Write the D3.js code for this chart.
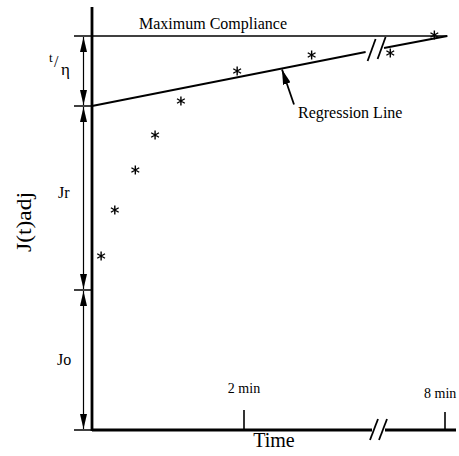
<!DOCTYPE html>
<html>
<head>
<meta charset="utf-8">
<script src="https://cdn.jsdelivr.net/npm/d3@7"></script>
<style>
  html, body { margin: 0; padding: 0; background: #fff; }
  svg { display: block; }
  text { font-family: "Liberation Serif", "Times New Roman", serif; fill: #000; }
</style>
</head>
<body>
<svg id="chart" width="459" height="456"></svg>
<script>
// ---- Data (time in minutes, compliance in arbitrary units) ----
const pointTimes  = [0.12, 0.30, 0.57, 0.83, 1.17, 1.91, 2.89, 7.28, 7.86];
const pointValues = [17.4, 22.0, 26.0, 29.5, 32.9, 35.9, 37.5, 37.7, 39.5];

const regressionTimes  = [0, 3.6, 7.17, 8.03];     // two pieces around the break
const regressionValues = [32.4, 37.8, 38.2, 39.4];

const levelNames  = ["0", "Jo", "Jo+Jr", "Max"];
const levelValues = [0, 14.0, 32.4, 39.4];
const maxEndTime  = 8.03;

const tickTimes  = [2, 8];
const tickLabels = ["2 min", "8 min"];

const segmentLabels = ["Jo", "Jr"];

// ---- Scales ----
const svg = d3.select("#chart");
// broken time axis: 0..3.6 | break | 7.2..8.2
const x = d3.scaleLinear().domain([0, 3.6, 7.2, 8.2]).range([92, 365.6, 384.2, 460.2]);
const y = d3.scaleLinear().domain([0, 42.2]).range([430, 8]);

// defs: arrow markers
const defs = svg.append("defs");
defs.append("marker").attr("id", "ah").attr("viewBox", "0 0 10 10")
  .attr("preserveAspectRatio", "none")
  .attr("refX", 10).attr("refY", 5).attr("markerWidth", 15).attr("markerHeight", 7)
  .attr("markerUnits", "userSpaceOnUse").attr("orient", "auto-start-reverse")
  .append("path").attr("d", "M0,0 L10,5 L0,10 Z").attr("fill", "#000");
defs.append("marker").attr("id", "ah2").attr("viewBox", "0 0 10 10")
  .attr("preserveAspectRatio", "none")
  .attr("refX", 10).attr("refY", 5).attr("markerWidth", 15).attr("markerHeight", 8)
  .attr("markerUnits", "userSpaceOnUse").attr("orient", "auto")
  .append("path").attr("d", "M0,0 L10,5 L0,10 Z").attr("fill", "#000");

// ---- Axes ----
const x0 = x(0), y0 = y(0);
// y axis
svg.append("line").attr("x1", x0).attr("x2", x0).attr("y1", y0 + 1).attr("y2", 7)
  .attr("stroke", "#000").attr("stroke-width", 2.8);
// x axis with break gap
svg.append("line").attr("x1", x0).attr("x2", 372).attr("y1", y0).attr("y2", y0)
  .attr("stroke", "#000").attr("stroke-width", 2.8);
svg.append("line").attr("x1", 385).attr("x2", 456).attr("y1", y0).attr("y2", y0)
  .attr("stroke", "#000").attr("stroke-width", 2.8);
// x axis break slashes
[374, 383].forEach(cx => {
  svg.append("line").attr("x1", cx - 4).attr("y1", y0 + 10).attr("x2", cx + 4).attr("y2", y0 - 11)
    .attr("stroke", "#000").attr("stroke-width", 1.8);
});

// x ticks
tickTimes.forEach((t, i) => {
  svg.append("line").attr("x1", x(t)).attr("x2", x(t)).attr("y1", y0).attr("y2", y0 - 20 + i * 2)
    .attr("stroke", "#000").attr("stroke-width", 1.6);
  svg.append("text").attr("x", x(t)).attr("y", y0 - 37 + i * 5)
    .attr("text-anchor", i === 0 ? "middle" : "start")
    .attr("dx", i === 0 ? 0 : -21)
    .attr("font-size", 14).text(tickLabels[i]);
});

// axis titles
svg.append("text").attr("x", 274).attr("y", 447).attr("text-anchor", "middle")
  .attr("font-size", 20).text("Time");
svg.append("text").attr("transform", "translate(31,222) rotate(-90)")
  .attr("text-anchor", "middle").attr("font-size", 20)
  .attr("textLength", 60).attr("lengthAdjust", "spacingAndGlyphs").text("J(t)adj");

// ---- level ticks on the left ----
levelValues.forEach(v => {
  svg.append("line").attr("x1", 74).attr("x2", x0).attr("y1", y(v)).attr("y2", y(v))
    .attr("stroke", "#000").attr("stroke-width", 1.5);
});

// dimension arrows
const ax = 83.5;
for (let i = 0; i < levelValues.length - 1; i++) {
  svg.append("line").attr("x1", ax).attr("x2", ax)
    .attr("y1", y(levelValues[i]) - 1).attr("y2", y(levelValues[i + 1]) + 1)
    .attr("stroke", "#000").attr("stroke-width", 1.2)
    .attr("marker-start", "url(#ah)").attr("marker-end", "url(#ah)");
}
// segment labels
svg.append("text").attr("x", 57).attr("y", (y(levelValues[0]) + y(levelValues[1])) / 2 + 5)
  .attr("font-size", 16).text(segmentLabels[0]);
svg.append("text").attr("x", 58).attr("y", (y(levelValues[1]) + y(levelValues[2])) / 2)
  .attr("font-size", 16).text(segmentLabels[1]);
// t / eta label
const tl = svg.append("g");
tl.append("text").attr("x", 49).attr("y", 62).attr("font-size", 13).text("t");
tl.append("text").attr("x", 54).attr("y", 67).attr("font-size", 16).text("/");
tl.append("text").attr("x", 61).attr("y", 75).attr("font-size", 17).text("η");

// ---- maximum compliance line ----
svg.append("line").attr("x1", x0).attr("x2", x(maxEndTime))
  .attr("y1", y(levelValues[3])).attr("y2", y(levelValues[3]))
  .attr("stroke", "#000").attr("stroke-width", 1.6);
svg.append("text").attr("x", 139).attr("y", 29).attr("font-size", 16).text("Maximum Compliance");

// ---- regression line (two pieces with break) ----
const line = d3.line().x(d => x(d[0])).y(d => y(d[1]));
const regPts = regressionTimes.map((t, i) => [t, regressionValues[i]]);
svg.append("path").attr("d", line(regPts.slice(0, 2))).attr("fill", "none")
  .attr("stroke", "#000").attr("stroke-width", 1.9);
svg.append("path").attr("d", line(regPts.slice(2))).attr("fill", "none")
  .attr("stroke", "#000").attr("stroke-width", 1.9);
// regression break slashes
const bx1 = x(regressionTimes[1]), by1 = y(regressionValues[1]);
[bx1 + 6, bx1 + 16].forEach((cx, i) => {
  const cy = by1 - 2 - i * 2;
  svg.append("line").attr("x1", cx - 4).attr("y1", cy + 11).attr("x2", cx + 4).attr("y2", cy - 11)
    .attr("stroke", "#000").attr("stroke-width", 1.8);
});

// regression label + arrow
const tipT = 2.5, tipV = regressionValues[0] + (regressionValues[1] - regressionValues[0]) / regressionTimes[1] * tipT;
svg.append("line").attr("x1", x(tipT) + 12).attr("y1", y(tipV) + 36)
  .attr("x2", x(tipT)).attr("y2", y(tipV) + 1)
  .attr("stroke", "#000").attr("stroke-width", 1.8).attr("marker-end", "url(#ah2)");
svg.append("text").attr("x", 298).attr("y", 118).attr("font-size", 16).text("Regression Line");

// ---- asterisk points ----
const asterisk = {
  draw(ctx, size) {
    const r = Math.sqrt(size) / 2;
    for (let k = 0; k < 3; k++) {
      const a = Math.PI / 2 + k * Math.PI / 3;
      ctx.moveTo(r * Math.cos(a), r * Math.sin(a));
      ctx.lineTo(-r * Math.cos(a), -r * Math.sin(a));
    }
  }
};
svg.selectAll("path.pt").data(pointTimes.map((t, i) => [t, pointValues[i]]))
  .enter().append("path").attr("class", "pt")
  .attr("transform", d => `translate(${x(d[0])},${y(d[1])})`)
  .attr("d", d3.symbol().type(asterisk).size(81))
  .attr("fill", "none").attr("stroke", "#000").attr("stroke-width", 1.4);
</script>
</body>
</html>
